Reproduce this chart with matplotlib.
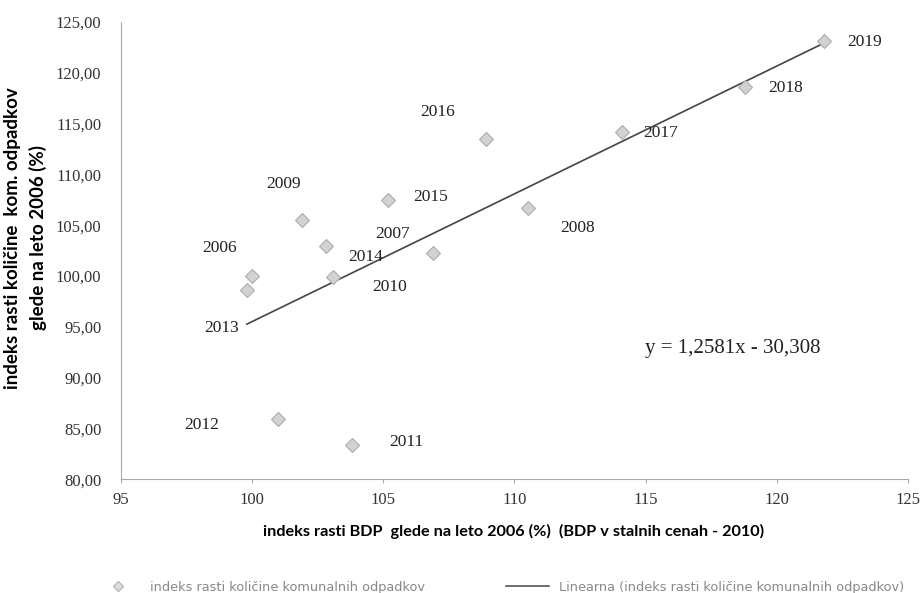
import numpy as np
import matplotlib.pyplot as plt
from matplotlib.lines import Line2D

# podatki, odčitani z grafa
years = [2006, 2007, 2008, 2009, 2010, 2011, 2012, 2013, 2014, 2015, 2016, 2017, 2018, 2019]
bdp_index = [100.0, 106.9, 110.5, 101.9, 103.1, 103.8, 101.0, 99.8, 102.8, 105.2, 108.9, 114.1, 118.8, 121.8]
odpadki_index = [100.0, 102.3, 106.7, 105.5, 99.9, 83.4, 85.9, 98.6, 102.9, 107.5, 113.5, 114.2, 118.6, 123.1]

# linearni trend (iz enačbe na grafu)
slope = 1.2581
intercept = -30.308

# odmiki oznak let (v pikslih)
label_offsets = {
    2006: (-32, 28), 2007: (-41, 19), 2008: (50, -20), 2009: (-18, 36),
    2010: (56, -10), 2011: (55, 3), 2012: (-77, -6), 2013: (-25, -38),
    2014: (40, -11), 2015: (42, 3), 2016: (-48, 27), 2017: (39, -1),
    2018: (40, -1), 2019: (40, -1),
}

fig = plt.figure(figsize=(9.22, 5.93), dpi=100)
ax = fig.add_axes([0.131, 0.192, 0.854, 0.771])

ax.plot(bdp_index, odpadki_index, linestyle="none", marker="D", markersize=7,
        markerfacecolor="#d2d2d2", markeredgecolor="#acacac", markeredgewidth=0.8, zorder=3)

x_line = np.array([min(bdp_index), max(bdp_index)])
ax.plot(x_line, slope * x_line + intercept, color="#444444", linewidth=1.2, zorder=2)

for yr, x, y in zip(years, bdp_index, odpadki_index):
    dx, dy = label_offsets[yr]
    ax.annotate(str(yr), (x, y), xytext=(dx, dy), textcoords="offset pixels",
                ha="center", va="center", fontsize=12.5, family="Liberation Serif", color="#222222")

ax.text(118.3, 92.9, "y = 1,2581x - 30,308", ha="center", va="center",
        fontsize=15, family="Liberation Serif", color="#222222")

ax.set_xlim(95, 125)
ax.set_ylim(80, 125)
ax.set_xticks(np.arange(95, 126, 5))
ax.set_yticks(np.arange(80, 126, 5))
ax.set_yticklabels([f"{v:.2f}".replace(".", ",") for v in np.arange(80, 126, 5)])

for s in ["top", "right"]:
    ax.spines[s].set_visible(False)
for s in ["left", "bottom"]:
    ax.spines[s].set_color("#aaaaaa")
    ax.spines[s].set_linewidth(0.8)
    ax.spines[s].set_linestyle((0, (1, 1)))

ax.tick_params(axis="x", length=3, color="#aaaaaa", labelsize=12, pad=6, labelcolor="#333333")
ax.tick_params(axis="y", length=0, labelsize=12, pad=14, labelcolor="#333333")
for lab in ax.get_xticklabels() + ax.get_yticklabels():
    lab.set_family("Liberation Serif")

fig.text(0.557, 0.1046, "indeks rasti BDP  glede na leto 2006 (%)  (BDP v stalnih cenah - 2010)",
         ha="center", va="center", fontsize=11.7, fontweight="bold", family="Lato")
fig.text(0.014, 0.599, "indeks rasti količine  kom. odpadkov", rotation=90,
         ha="center", va="center", fontsize=13.5, fontweight="bold", family="Lato")
fig.text(0.041, 0.599, "glede na leto 2006 (%)", rotation=90,
         ha="center", va="center", fontsize=13.5, fontweight="bold", family="Lato")

handles = [
    Line2D([], [], linestyle="none", marker="D", markersize=5,
           markerfacecolor="#dddddd", markeredgecolor="#bbbbbb"),
    Line2D([], [], color="#555555", linewidth=1.2),
]
labels = ["indeks rasti količine komunalnih odpadkov",
          "Linearna (indeks rasti količine komunalnih odpadkov)"]
leg = fig.legend(handles, labels, loc="center", bbox_to_anchor=(0.543, 0.01), ncol=2,
                 frameon=False, fontsize=9.3, columnspacing=6.3, handlelength=3.3)
for t in leg.get_texts():
    t.set_color("#888888")

fig.savefig("out.png", dpi=100)
